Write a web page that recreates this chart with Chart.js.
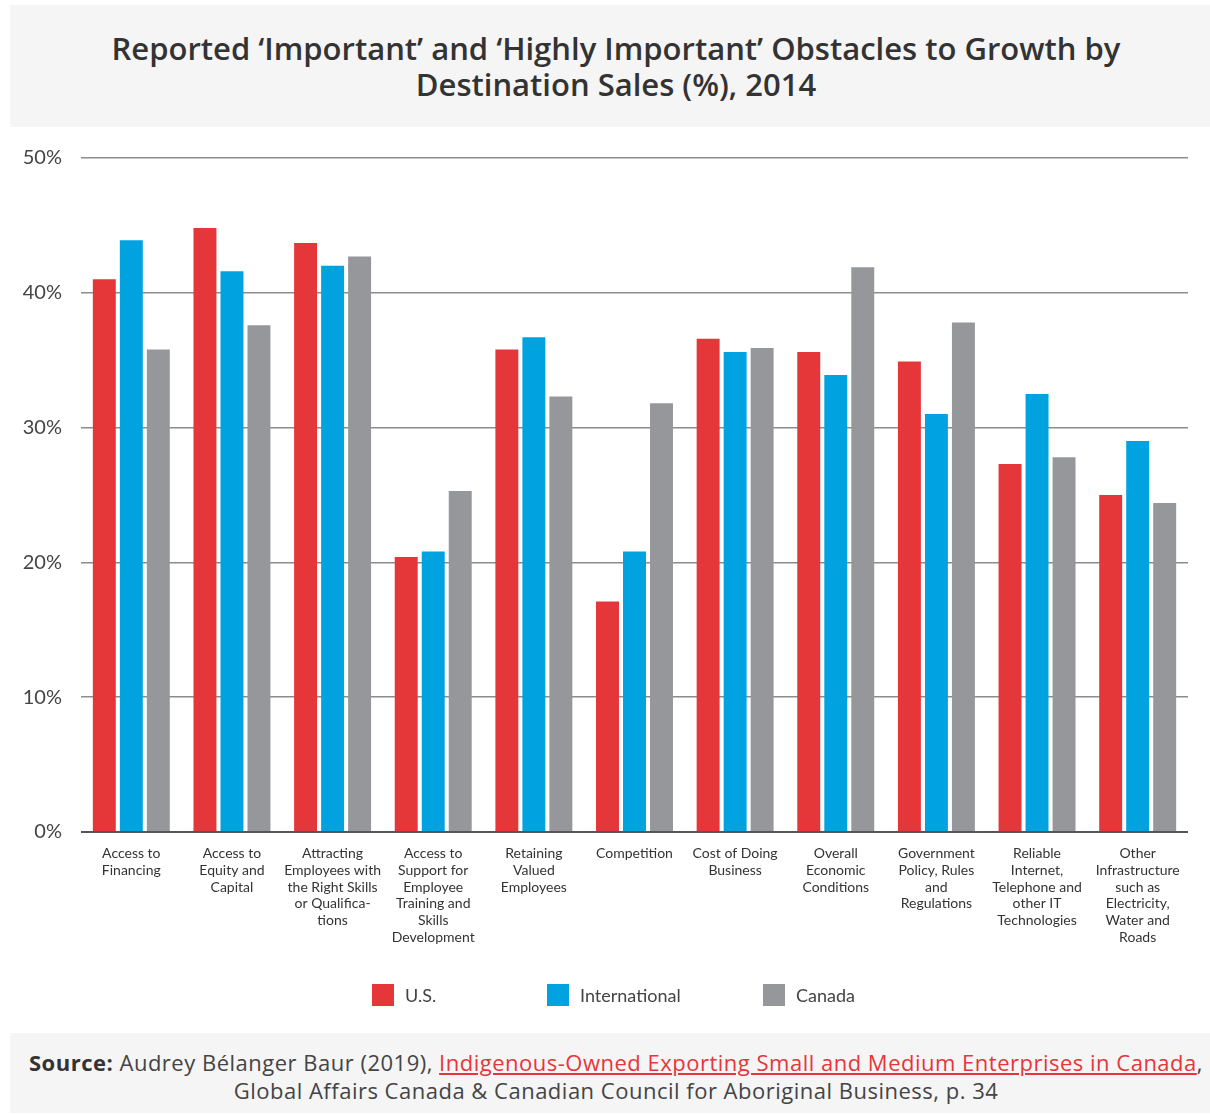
<!DOCTYPE html>
<html>
<head>
<meta charset="utf-8">
<script src="https://cdn.jsdelivr.net/npm/chart.js@4.4.1/dist/chart.umd.min.js"></script>
<style>
  body { margin: 0; background: #fff; font-family: Lato, "Noto Sans", sans-serif; }
  #page { position: relative; width: 1210px; height: 1114px; overflow: hidden; }
  #title {
    position: absolute; left: 10px; top: 5px; width: 1200px; height: 122px;
    background: #f5f5f5; box-sizing: border-box; padding: 25px 0 0 12px;
    text-align: center; font-family: "Open Sans", sans-serif; font-weight: 600;
    font-size: 31px; line-height: 36px; color: #333; white-space: nowrap;
  }
  #source {
    position: absolute; left: 10px; top: 1033px; width: 1200px; height: 80px;
    background: #f5f5f5; box-sizing: border-box; padding: 15px 0 0 12px;
    text-align: center; font-family: "Open Sans", sans-serif; font-size: 22px;
    letter-spacing: 0.5px; line-height: 28px; color: #444; white-space: nowrap;
  }
  #source b { color: #333; }
  #source a { color: #e5363a; text-decoration: underline; }
  #wrap { position: absolute; left: 0; top: 127px; width: 1210px; height: 906px; }
  .leg { position: absolute; top: 984px; height: 22px; font-size: 18px; line-height: 22px; color: #444; }
  .leg span { display: inline-block; width: 22px; height: 22px; vertical-align: top; margin-right: 11px; }
</style>
</head>
<body>
<div id="page">
  <div id="title">Reported ‘Important’ and ‘Highly Important’ Obstacles to Growth by<br>Destination Sales (%), 2014</div>
  <div id="wrap"><canvas id="chart" width="1210" height="906"></canvas></div>
  <div id="legend"></div>
  <div id="source"><b>Source:</b> Audrey Bélanger Baur (2019), <a>Indigenous-Owned Exporting Small and Medium Enterprises in Canada</a>,<br>Global Affairs Canada &amp; Canadian Council for Aboriginal Business, p. 34</div>
</div>
<script>
"use strict";

var categories = [
    ["Access to", "Financing"],
    ["Access to", "Equity and", "Capital"],
    ["Attracting", "Employees with", "the Right Skills", "or Qualifica-", "tions"],
    ["Access to", "Support for", "Employee", "Training and", "Skills", "Development"],
    ["Retaining", "Valued", "Employees"],
    ["Competition"],
    ["Cost of Doing", "Business"],
    ["Overall", "Economic", "Conditions"],
    ["Government", "Policy, Rules", "and", "Regulations"],
    ["Reliable", "Internet,", "Telephone and", "other IT", "Technologies"],
    ["Other", "Infrastructure", "such as", "Electricity,", "Water and", "Roads"]
];

var seriesNames = ["U.S.", "International", "Canada"];
var seriesColors = ["#e5363a", "#00a3e0", "#96979b"];

var usValues = [41.0, 44.8, 43.7, 20.4, 35.8, 17.1, 36.6, 35.6, 34.9, 27.3, 25.0];
var intlValues = [43.9, 41.6, 42.0, 20.8, 36.7, 20.8, 35.6, 33.9, 31.0, 32.5, 29.0];
var canadaValues = [35.8, 37.6, 42.7, 25.3, 32.3, 31.8, 35.9, 41.9, 37.8, 27.8, 24.4];

var yTicks = [0, 10, 20, 30, 40, 50];

// legend positions (px from page left)
var legendLeft = [372, 547, 763];

var seriesValues = [usValues, intlValues, canadaValues];

function buildDatasets() {
    return seriesNames.map(function (name, i) {
        return {
            label: name,
            data: seriesValues[i],
            backgroundColor: seriesColors[i],
            borderWidth: 0,
            categoryPercentage: 0.805,
            barPercentage: 0.85
        };
    });
}

function buildLegend() {
    var el = document.getElementById('legend');
    seriesNames.forEach(function (name, i) {
        var item = document.createElement('div');
        item.className = 'leg';
        item.style.left = legendLeft[i] + 'px';
        item.innerHTML = '<span style="background:' + seriesColors[i] + '"></span>' + name;
        el.appendChild(item);
    });
}

buildLegend();

new Chart(document.getElementById('chart'), {
    type: 'bar',
    data: {
        labels: categories,
        datasets: buildDatasets()
    },
    options: {
        responsive: false,
        animation: false,
        layout: { padding: { top: 30, right: 22, left: 0, bottom: 0 } },
        plugins: {
            legend: { display: false },
            tooltip: { enabled: false }
        },
        scales: {
            x: {
                grid: { display: false, drawTicks: false },
                border: { display: false },
                ticks: {
                    autoSkip: false,
                    maxRotation: 0,
                    padding: 13,
                    color: '#333',
                    font: { family: 'Lato', size: 14, lineHeight: 1.2 }
                },
                afterFit: function (scale) { scale.height = 201; }
            },
            y: {
                min: 0,
                max: 50,
                afterBuildTicks: function (scale) {
                    scale.ticks = yTicks.map(function (v) { return { value: v }; });
                },
                grid: {
                    drawTicks: false,
                    color: function (ctx) { return ctx.tick && ctx.tick.value === 0 ? '#555' : '#8c8c8c'; },
                    lineWidth: function (ctx) { return ctx.tick && ctx.tick.value === 0 ? 2 : 1.5; }
                },
                border: { display: false },
                ticks: {
                    padding: 19,
                    color: '#444',
                    font: { family: 'Lato', size: 20 },
                    callback: function (v) { return v + '%'; }
                },
                afterFit: function (scale) { scale.width = 81; }
            }
        }
    }
});
</script>
</body>
</html>
